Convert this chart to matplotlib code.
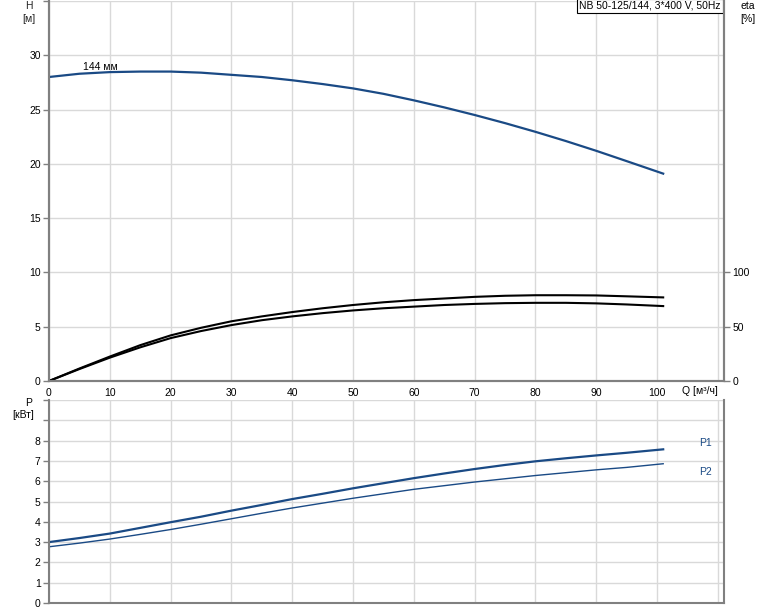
import numpy as np
import matplotlib.pyplot as plt

plt.rcParams['font.family'] = ['Liberation Sans', 'DejaVu Sans']
plt.rcParams['font.size'] = 7.5

# Datos
q = [0, 5, 10, 15, 20, 25, 30, 35, 40, 45, 50, 55, 60, 65, 70, 75, 80, 85, 90, 95, 101]
h = [28.0, 28.3, 28.45, 28.5, 28.5, 28.4, 28.2, 28.0, 27.7, 27.35, 26.95, 26.45,
     25.85, 25.2, 24.5, 23.75, 22.95, 22.1, 21.2, 20.25, 19.1]
eta_a = [0, 11.5, 22.5, 33, 42, 49, 55, 59.5, 63.5, 67, 70, 72.5, 74.5, 76, 77.5,
         78.5, 79, 79, 78.8, 78, 77]
eta_b = [0, 11, 21.5, 31, 39.5, 46, 51.5, 56, 59.5, 62.5, 65, 67, 68.5, 70, 71,
         71.7, 72, 72, 71.5, 70.5, 69]
p1 = [3.0, 3.2, 3.42, 3.7, 3.98, 4.25, 4.55, 4.83, 5.12, 5.38, 5.65, 5.9, 6.15,
      6.38, 6.6, 6.8, 6.98, 7.13, 7.27, 7.4, 7.57]
p2 = [2.77, 2.95, 3.15, 3.38, 3.62, 3.88, 4.15, 4.42, 4.68, 4.92, 5.16, 5.38, 5.6,
      5.78, 5.96, 6.12, 6.28, 6.42, 6.56, 6.68, 6.86]

azul = '#1a4a85'
gris = '#808080'
rejilla = '#d9d9d9'

fig = plt.figure(figsize=(7.74, 6.11), dpi=100)

#Grafica inferior de potencia (se dibuja primero para no tapar textos)
ax3 = fig.add_axes([49/774, 1-603/611, 675/774, 203/611])
ax3.set_xlim(0, 111)
ax3.set_ylim(0, 10)
ax3.set_xticks(range(0, 111, 10))
ax3.set_xticklabels([])
ax3.tick_params(axis='x', length=0)
ax3.set_yticks(range(0, 11))
ax3.set_yticklabels([str(i) for i in range(0, 9)] + ['', ''])
ax3.grid(True, color=rejilla, lw=1)
ax3.plot(q, p1, color=azul, lw=1.6)
ax3.plot(q, p2, color=azul, lw=1.0)
ax3.text(108, 7.9, 'P1', color=azul, ha='center', va='center')
ax3.text(108, 6.47, 'P2', color=azul, ha='center', va='center')
ax3.spines['top'].set_visible(False)
for s in ('left', 'bottom', 'right'):
    ax3.spines[s].set_color(gris)
    ax3.spines[s].set_linewidth(1.5)
ax3.tick_params(axis='y', length=4, width=1, color=gris, pad=2, labelsize=7.5)
ax3.text(-0.03, 0.985, 'P', transform=ax3.transAxes, ha='center', va='center')
ax3.text(-0.038, 0.925, '[кВт]', transform=ax3.transAxes, ha='center', va='center')
ax3.patch.set_alpha(0)

#Grafica superior H y eta
ax1 = fig.add_axes([49/774, 1-381/611, 675/774, 380/611])
ax1.set_xlim(0, 111)
ax1.set_ylim(0, 35)
ax1.set_xticks(range(0, 111, 10))
ax1.set_xticklabels([str(i) for i in range(0, 101, 10)] + [''])
ax1.set_yticks(range(0, 36, 5))
ax1.set_yticklabels([str(i) for i in range(0, 31, 5)] + [''])
ax1.grid(True, color=rejilla, lw=1)
ax1.plot(q, h, color=azul, lw=1.6)
ax1.text(8.5, 28.5, '144 мм', fontsize=7.5, ha='center', va='bottom')

ax2 = ax1.twinx()
ax2.set_ylim(0, 350)
ax2.set_yticks([0, 50, 100])
ax2.plot(q, eta_a, color='black', lw=1.5)
ax2.plot(q, eta_b, color='black', lw=1.5)

for a in (ax1, ax2):
    a.spines['top'].set_visible(False)
    for s in ('left', 'bottom', 'right'):
        a.spines[s].set_color(gris)
        a.spines[s].set_linewidth(1.5)
    a.tick_params(length=4, width=1, color=gris, pad=2, labelsize=7.5)
ax1.tick_params(axis='x', length=0, pad=5)

ax1.text(-0.03, 1.0, 'H', transform=ax1.transAxes, ha='center', va='top', color='#222222')
ax1.text(-0.03, 0.965, '[м]', transform=ax1.transAxes, ha='center', va='top', color='#222222')
ax1.text(1.035, 1.0, 'eta', transform=ax1.transAxes, ha='center', va='top')
ax1.text(1.035, 0.965, '[%]', transform=ax1.transAxes, ha='center', va='top')
ax1.text(0.995, 1.0, 'NB 50-125/144, 3*400 V, 50Hz', transform=ax1.transAxes,
         ha='right', va='top', fontsize=7.5,
         bbox=dict(facecolor='white', edgecolor='black', lw=0.8, pad=1.5))
ax1.annotate('Q [м³/ч]', xy=(110, 0), xycoords=('data', 'axes fraction'),
             xytext=(0, -10), textcoords='offset pixels', ha='right', va='center')

plt.savefig('out.png', dpi=100)
